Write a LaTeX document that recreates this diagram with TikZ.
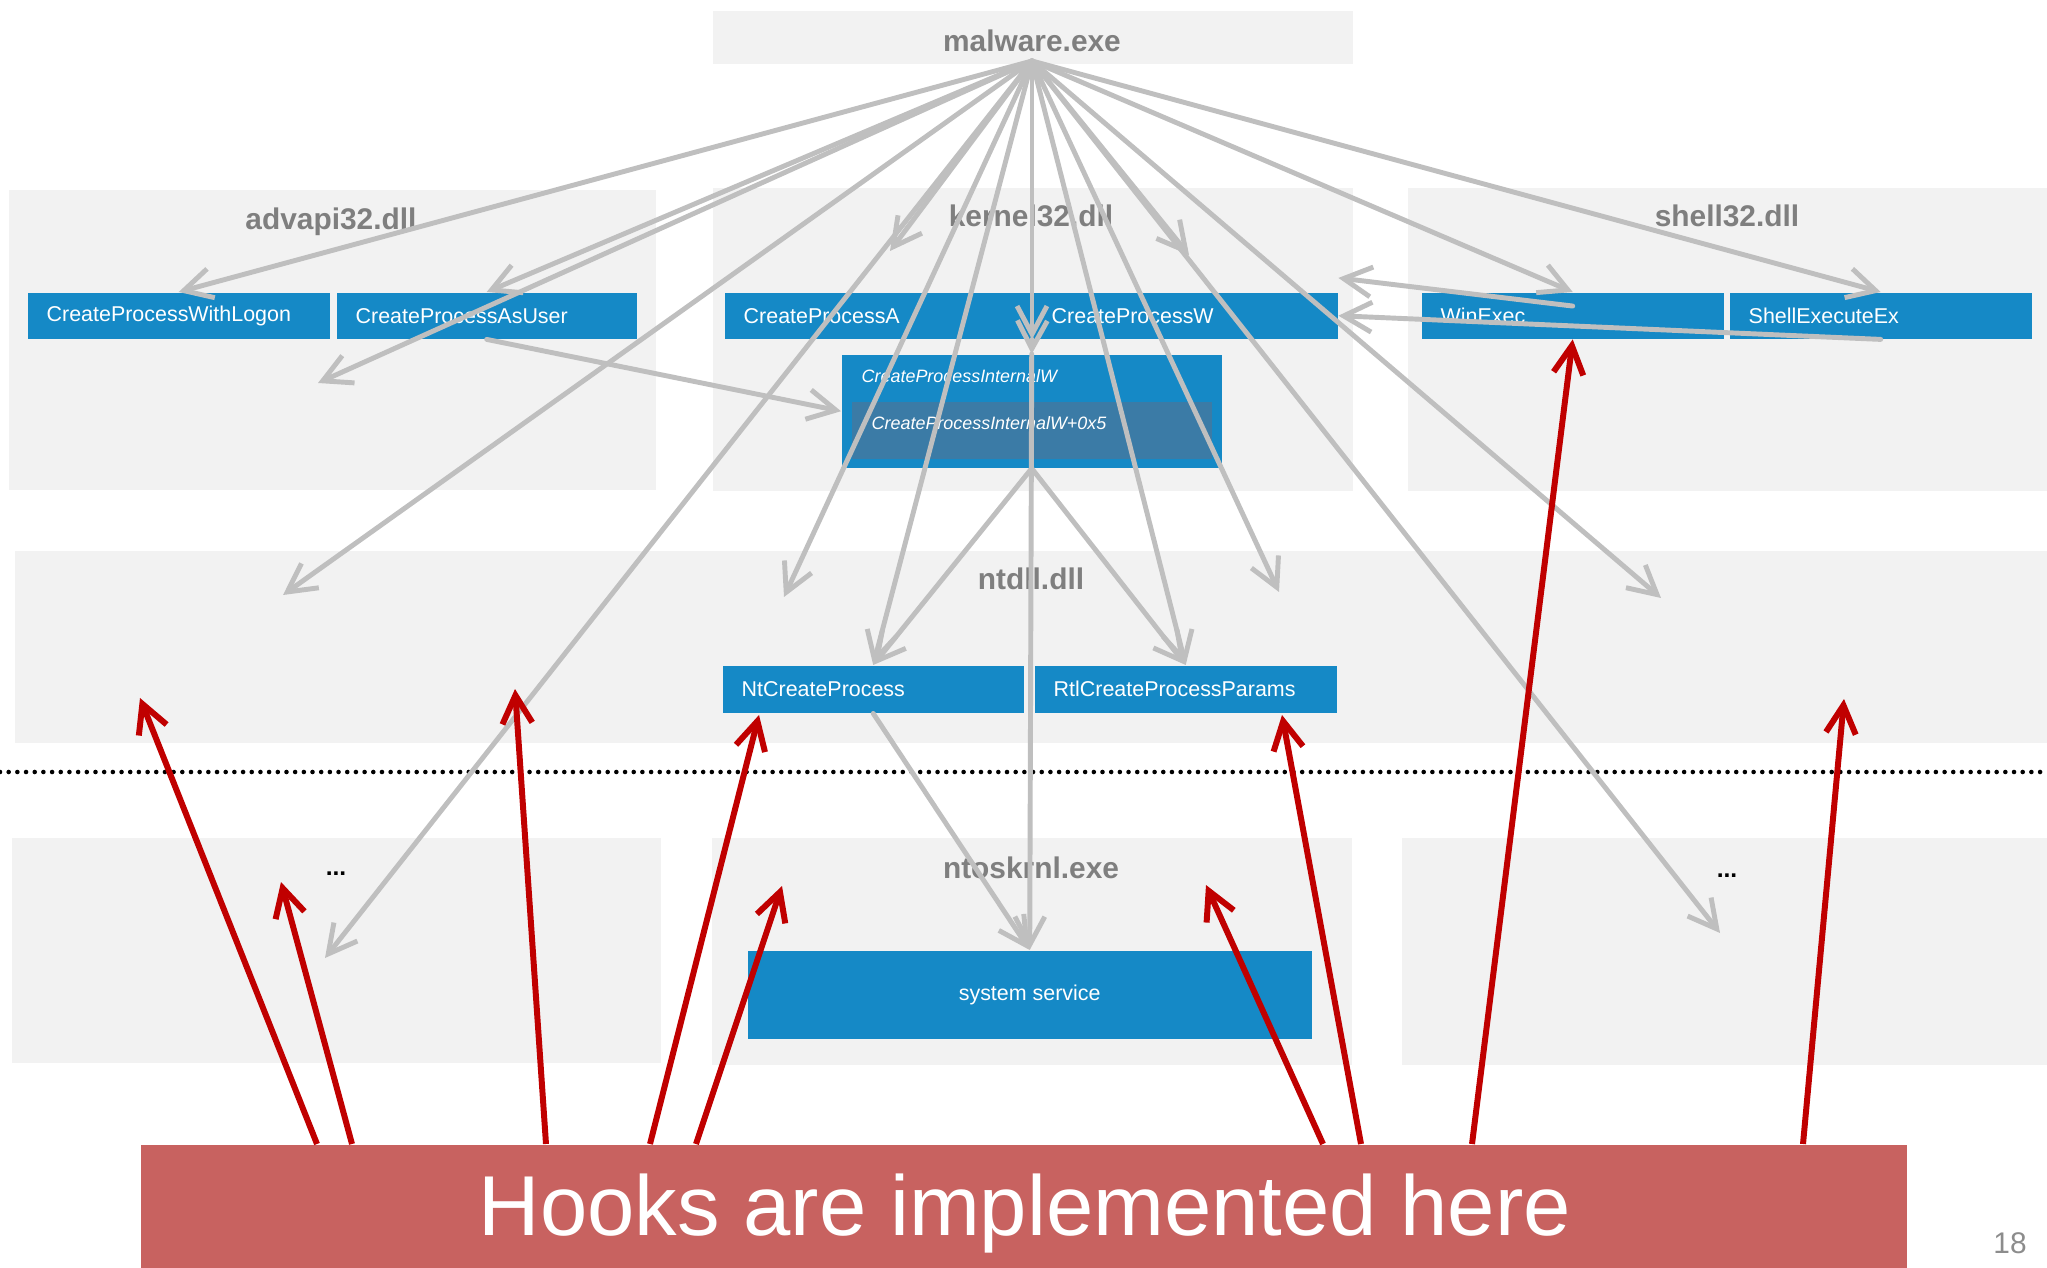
\documentclass[tikz,border=0pt]{standalone}
\usepackage{fontspec}
\setmainfont{Liberation Sans}
\usepackage{xcolor}
\usetikzlibrary{arrows.meta, positioning}

\definecolor{panelgray}{HTML}{F2F2F2}
\definecolor{titlegray}{HTML}{7F7F7F}
\definecolor{fnblue}{HTML}{1589C6}
\definecolor{fndark}{HTML}{3B7BA6}
\definecolor{callgray}{HTML}{BFBFBF}
\definecolor{hookred}{HTML}{C86260}
\definecolor{hookline}{HTML}{C00000}
\definecolor{pagegray}{HTML}{8C8C8C}

\newcommand{\dllfont}{\fontsize{8.5}{10}\selectfont\bfseries}
\newcommand{\fnfont}{\fontsize{6.1}{7}\selectfont}
\newcommand{\fnitfont}{\fontsize{5.1}{6}\selectfont\itshape}
\newcommand{\hookfont}{\fontsize{24.2}{28}\selectfont}

\begin{document}
\begin{tikzpicture}[x=1cm, y=-1cm,
    panel/.style={anchor=north west, fill=panelgray, inner sep=0pt},
    dll/.style={anchor=base, font=\dllfont, text=titlegray, inner sep=0pt},
    dots/.style={font=\fontsize{7}{8}\selectfont\bfseries, inner sep=0pt},
    fn/.style={anchor=north west, fill=fnblue, text=white, font=\fnfont,
        inner xsep=0.19cm, inner ysep=0pt, align=left, minimum height=0.46cm},
    fnit/.style={anchor=west, text=white, font=\fnitfont, inner sep=0pt},
    call/.style={draw=callgray, line width=1.4pt, line cap=round,
        -{Straight Barb[length=8pt, width=8.5pt]}},
    hook/.style={draw=hookline, line width=1.7pt,
        -{Straight Barb[length=8pt, width=8.5pt]}}]

    \useasboundingbox (0,0) rectangle (20.47,12.68);

    % modules
    \node[panel, minimum width=6.40cm, minimum height=0.53cm] (malware) at (7.12,0.10) {};
    \node[panel, minimum width=6.47cm, minimum height=3.00cm] (advapi) at (0.08,1.89) {};
    \node[panel, minimum width=6.40cm, minimum height=3.03cm] (kernel) at (7.12,1.87) {};
    \node[panel, minimum width=6.40cm, minimum height=3.03cm] (shell) at (14.07,1.87) {};
    \node[panel, minimum width=20.33cm, minimum height=1.92cm] (ntdll) at (0.14,5.50) {};
    \node[panel, minimum width=6.49cm, minimum height=2.25cm] (userl) at (0.11,8.37) {};
    \node[panel, minimum width=6.40cm, minimum height=2.27cm] (ntos) at (7.11,8.37) {};
    \node[panel, minimum width=6.46cm, minimum height=2.27cm] (userr) at (14.01,8.37) {};

    \node[dll] (malware-t) at (10.32,0.52) {malware.exe};
    \node[dll] (advapi-t) at (3.31,2.30) {advapi32.dll};
    \node[dll] (kernel-t) at (10.31,2.27) {kernel32.dll};
    \node[dll] (shell-t) at (17.27,2.27) {shell32.dll};
    \node[dll] (ntdll-t) at (10.31,5.90) {ntdll.dll};
    \node[dll] (ntos-t) at (10.31,8.78) {ntoskrnl.exe};
    \node[dots] (userl-t) at (3.36,8.74) {...};
    \node[dots] (userr-t) at (17.27,8.76) {...};

    % functions
    \node[fn, text width=2.64cm] (logon) at (0.27,2.92) {CreateProcessWithLogon};
    \node[fn, text width=2.62cm] (asuser) at (3.36,2.92) {CreateProcessAsUser};
    \node[fn, text width=2.68cm] (cpa) at (7.24,2.92) {CreateProcessA};
    \node[fn, text width=2.67cm] (cpw) at (10.32,2.92) {CreateProcessW};
    \node[fn, text width=2.64cm] (winexec) at (14.21,2.92) {WinExec};
    \node[fn, text width=2.64cm] (shellex) at (17.29,2.92) {ShellExecuteEx};
    \node[fn, text width=2.63cm, minimum height=0.47cm] (ntcp) at (7.22,6.65) {NtCreateProcess};
    \node[fn, text width=2.64cm, minimum height=0.47cm] (rtlcp) at (10.34,6.65) {RtlCreateProcessParams};

    \node[panel, fill=fnblue, minimum width=3.80cm, minimum height=1.13cm] (cpint) at (8.41,3.54) {};
    \node[panel, fill=fndark, minimum width=3.60cm, minimum height=0.57cm] (cpint5) at (8.51,4.01) {};
    \node[fnit] (cpint-t) at (8.61,3.76) {CreateProcessInternalW};
    \node[fnit] (cpint5-t) at (8.71,4.23) {CreateProcessInternalW+0x5};

    \node[panel, fill=fnblue, text=white, font=\fnfont, minimum width=5.64cm,
        minimum height=0.88cm] (syssvc) at (7.47,9.50) {system service};

    \node[panel, fill=hookred, minimum width=17.66cm, minimum height=1.24cm] (hooks) at (1.40,11.44) {};
    \node[anchor=base, font=\hookfont, text=white, inner sep=0pt] (hooks-t) at (10.25,12.35) {Hooks are implemented here};
    \node[anchor=base, font=\fontsize{8.5}{10}\selectfont, text=pagegray, inner sep=0pt] (page) at (20.10,12.53) {18};

    % user / kernel boundary
    \coordinate (sep-l) at (0,7.72);
    \coordinate (sep-r) at (20.47,7.72);
    \draw[line width=1.3pt, dash pattern=on 0pt off 2.47pt, line cap=round] (sep-l) -- (sep-r);

    % call paths
    \coordinate (mw) at (10.32,0.61);
    \coordinate (a-free) at (3.18,3.83);
    \coordinate (n-left) at (2.83,5.95);
    \coordinate (u-left) at (3.25,9.58);
    \coordinate (k-left) at (8.90,2.51);
    \coordinate (n-midl) at (7.84,5.97);
    \coordinate (k-right) at (11.89,2.55);
    \coordinate (n-midr) at (12.79,5.92);
    \coordinate (n-right) at (16.61,5.98);
    \coordinate (u-right) at (17.20,9.33);

    \foreach \t in {logon.north, asuser.north, a-free, n-left, u-left, k-left, n-midl,
        ntcp.north, k-right, n-midr, rtlcp.north, n-right, u-right, winexec.north, shellex.north}
        \draw[call] (mw) -- (\t);
    \draw[call] (mw) -- (mw |- cpw.south west);
    \draw[call] (cpw.south west) -- (cpint.north);
    \draw[call] (asuser.south) -- (cpint.west);
    \draw[call] ([yshift=-4pt]winexec.north) -- ([yshift=4pt]cpw.north east);
    \draw[call] (shellex.south) -- (cpw.east);
    \draw[call] (cpint.south) -- (ntcp.north);
    \draw[call] (cpint.south) -- (rtlcp.north);
    \draw[call] (cpint.north) -- (syssvc.north);
    \draw[call] (ntcp.south) -- (syssvc.north);

    % hook points
    \coordinate (h-a) at (1.40,6.98);
    \coordinate (h-b) at (2.81,8.82);
    \coordinate (h-c) at (5.15,6.89);
    \coordinate (h-d) at (7.59,7.15);
    \coordinate (h-e) at (7.82,8.86);
    \coordinate (h-f) at (12.06,8.85);
    \coordinate (h-g) at (12.82,7.15);
    \coordinate (h-i) at (18.44,6.99);

    \foreach \dx/\t in {1.77/h-a, 2.12/h-b, 4.06/h-c, 5.10/h-d, 5.56/h-e,
        11.83/h-f, 12.21/h-g, 13.32/winexec.south, 16.63/h-i}
        \draw[hook] ([xshift=\dx cm]hooks.north west) -- (\t);

\end{tikzpicture}
\end{document}
